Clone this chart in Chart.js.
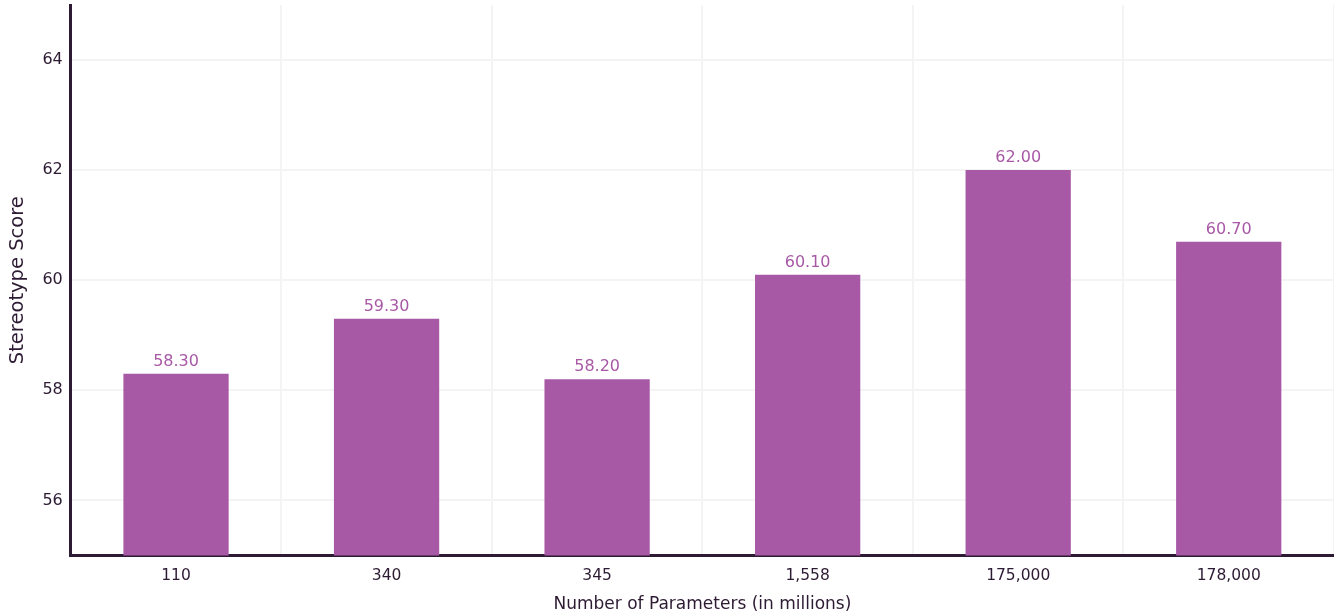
<!DOCTYPE html>
<html>
<head>
<meta charset="utf-8">
<script src="https://cdn.jsdelivr.net/npm/chart.js@4.4.1/dist/chart.umd.min.js"></script>
<style>
  html, body { margin: 0; padding: 0; background: #fff; }
  #wrap { width: 1334px; height: 613px; }
</style>
</head>
<body>
<div id="wrap"><canvas id="chart" width="1334" height="613"></canvas></div>
<script>
const labels = ['110', '340', '345', '1,558', '175,000', '178,000'];
const scores = [58.3, 59.3, 58.2, 60.1, 62.0, 60.7];
const yTicks = [56, 58, 60, 62, 64];

const barColor = '#a859a6';
const inkColor = '#2d1b33';
const fontFamily = 'DejaVu Sans';

// value labels above each bar
const barValues = {
  id: 'barValues',
  afterDatasetsDraw(chart) {
    const ctx = chart.ctx;
    const meta = chart.getDatasetMeta(0);
    ctx.save();
    ctx.fillStyle = barColor;
    ctx.font = '16px "' + fontFamily + '"';
    ctx.textAlign = 'center';
    ctx.textBaseline = 'bottom';
    meta.data.forEach((bar, i) => {
      ctx.fillText(scores[i].toFixed(2), bar.x, bar.y - 4);
    });
    ctx.restore();
  }
};

// drop the extra room Chart.js keeps for edge tick labels
function noEdgePadding(scale) {
  scale.paddingTop = 0;
  scale.paddingBottom = 0;
  scale.paddingLeft = 0;
  scale.paddingRight = 0;
}

new Chart(document.getElementById('chart'), {
  type: 'bar',
  data: {
    labels,
    datasets: [{
      data: scores,
      backgroundColor: barColor,
      categoryPercentage: 1,
      barPercentage: 0.5
    }]
  },
  options: {
    responsive: false,
    animation: false,
    layout: { padding: { top: 5, right: 0, left: 0, bottom: 0 } },
    plugins: { legend: { display: false }, tooltip: { enabled: false } },
    scales: {
      x: {
        afterFit: noEdgePadding,
        grid: { color: '#f4f4f4', lineWidth: 2, offset: true, drawTicks: false },
        border: { color: inkColor, width: 3 },
        ticks: { color: inkColor, font: { family: fontFamily, size: 15.5 }, padding: 11 },
        title: { display: true, text: 'Number of Parameters (in millions)', color: inkColor,
                 font: { family: fontFamily, size: 17, lineHeight: 1 }, padding: { top: 0, bottom: 0 } }
      },
      y: {
        min: 55, max: 65,
        afterFit: noEdgePadding,
        afterBuildTicks(axis) { axis.ticks = yTicks.map(v => ({ value: v })); },
        grid: { color: '#f4f4f4', lineWidth: 2, drawTicks: false },
        border: { color: inkColor, width: 3 },
        ticks: { color: inkColor, font: { family: fontFamily, size: 16 }, padding: 8 },
        title: { display: true, text: 'Stereotype Score', color: inkColor,
                 font: { family: fontFamily, size: 19.5 }, padding: { top: 6, bottom: 5 } }
      }
    }
  },
  plugins: [barValues]
});
</script>
</body>
</html>
